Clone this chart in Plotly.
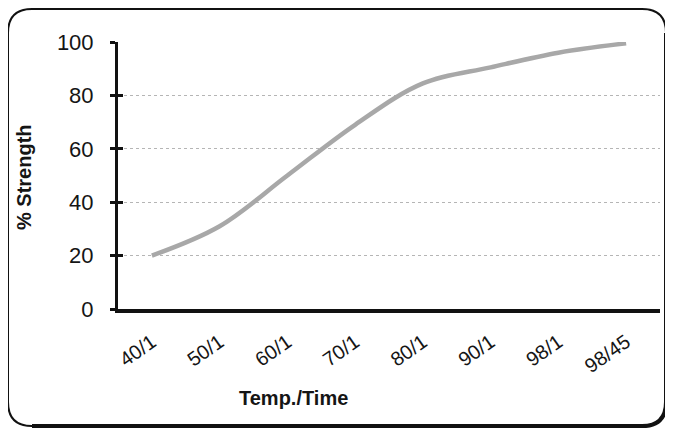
import plotly.graph_objects as go

categories = ["40/1", "50/1", "60/1", "70/1", "80/1", "90/1", "98/1", "98/45"]
strength = [20, 31, 50, 69, 84.5, 90.5, 96, 99.5]
y_ticks = [0, 20, 40, 60, 80, 100]
grid_vals = [20, 40, 60, 80]

# the page is shown with an 8px body offset, so the figure is sized to fit
OFF = 8
W, H = 673 - OFF, 430 - OFF
L, R, T, B = 118 - OFF, 13, 42 - OFF, 121
PW, PH = W - L - R, H - T - B


def px(x):
    # x in window pixels -> paper
    return (x - OFF - L) / PW


def py(y):
    return (H - B - (y - OFF)) / PH


def rounded_rect(x0, y0, x1, y1, r):
    pts = [
        f"M {px(x0 + r)} {py(y0)}",
        f"L {px(x1 - r)} {py(y0)}",
        f"Q {px(x1)} {py(y0)} {px(x1)} {py(y0 + r)}",
        f"L {px(x1)} {py(y1 - r)}",
        f"Q {px(x1)} {py(y1)} {px(x1 - r)} {py(y1)}",
        f"L {px(x0 + r)} {py(y1)}",
        f"Q {px(x0)} {py(y1)} {px(x0)} {py(y1 - r)}",
        f"L {px(x0)} {py(y0 + r)}",
        f"Q {px(x0)} {py(y0)} {px(x0 + r)} {py(y0)}",
        "Z",
    ]
    return " ".join(pts)


def br_edge(x0, y0, x1, y1, r):
    pts = [
        f"M {px(x1)} {py(y0 + r)}",
        f"L {px(x1)} {py(y1 - r)}",
        f"Q {px(x1)} {py(y1)} {px(x1 - r)} {py(y1)}",
        f"L {px(x0 + r)} {py(y1)}",
    ]
    return " ".join(pts)


FONT = "Liberation Sans, Arial, sans-serif"

fig = go.Figure()
fig.add_trace(go.Scatter(
    x=categories, y=strength, mode="lines",
    line=dict(color="#a8a8a8", width=4.5, shape="spline", smoothing=1.0),
    hoverinfo="skip", cliponaxis=False,
))

fig.update_layout(
    width=W, height=H,
    margin=dict(l=L, r=R, t=T, b=B),
    paper_bgcolor="white", plot_bgcolor="white",
    showlegend=False,
    font=dict(family=FONT, color="#151515"),
    xaxis=dict(
        type="category", range=[-0.5, 7.5],
        showgrid=False, zeroline=False,
        showline=True, linecolor="#111111", linewidth=3.5,
        ticks="outside", ticklen=10, tickcolor="rgba(0,0,0,0)", tickangle=-35,
        tickfont=dict(size=20, family=FONT, color="#151515"),
    ),
    yaxis=dict(
        range=[0, 100], tickvals=y_ticks,
        showgrid=False, zeroline=False,
        showline=True, linecolor="#111111", linewidth=3,
        ticks="outside", ticklen=5, tickwidth=2.5, tickcolor="#111111",
        ticklabelstandoff=12,
        tickfont=dict(size=22, family=FONT, color="#151515"),
    ),
    yaxis2=dict(
        range=[0, 100], overlaying="y", side="left",
        tickvals=y_ticks, showticklabels=False,
        showgrid=False, zeroline=False, showline=False,
        ticks="inside", ticklen=5, tickwidth=2.5, tickcolor="#111111",
    ),
    yaxis3=dict(
        range=[0, 100], overlaying="y", side="left",
        tickvals=grid_vals, showticklabels=False, ticks="",
        showgrid=True, gridcolor="#b5b5b5", gridwidth=1, griddash="dot",
        zeroline=False, showline=False,
    ),
)

fig.add_trace(go.Scatter(x=[categories[0]], y=[None], yaxis="y2", showlegend=False, hoverinfo="skip"))
fig.add_trace(go.Scatter(x=[categories[0]], y=[None], yaxis="y3", showlegend=False, hoverinfo="skip"))

fig.add_annotation(
    text="<b>% Strength</b>", textangle=-90,
    xref="paper", yref="paper", x=px(24), y=py(177),
    xanchor="center", yanchor="middle",
    showarrow=False, font=dict(size=20, family=FONT, color="#151515"),
)
fig.add_annotation(
    text="<b>Temp./Time</b>",
    xref="paper", yref="paper", x=px(293), y=py(398),
    xanchor="center", yanchor="middle",
    showarrow=False, font=dict(size=20, family=FONT, color="#151515"),
)

fig.add_shape(type="path", xref="paper", yref="paper",
              path=rounded_rect(8, 9, 666, 426, 24),
              line=dict(color="#111111", width=2), layer="above")
fig.add_shape(type="path", xref="paper", yref="paper",
              path=br_edge(8, 9, 666, 426, 24),
              line=dict(color="#111111", width=4), layer="above")

fig.write_html("out.html")
